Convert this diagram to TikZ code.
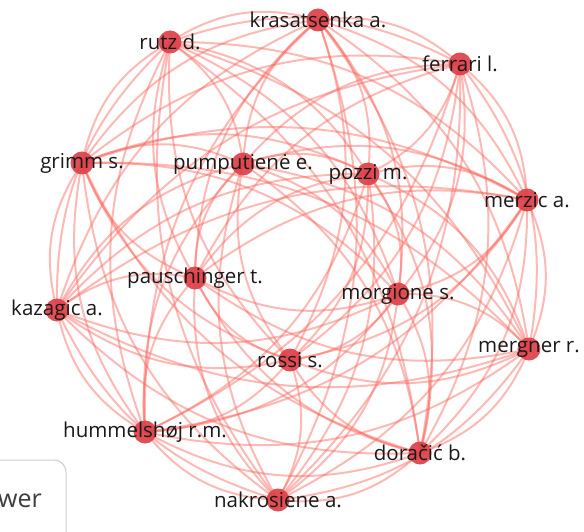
\documentclass[tikz,border=0pt]{standalone}
\usepackage{fontspec}
\setmainfont{Open Sans}
\usetikzlibrary{backgrounds}
\definecolor{edgecol}{RGB}{250,100,90}
\definecolor{nodecol}{RGB}{222,64,72}
\definecolor{labelcol}{RGB}{25,25,25}
\definecolor{boxcol}{RGB}{205,205,205}
\def\nodelist{kra/318/20/krasatsenka a., rut/170/42/rutz d., fer/460/64/ferrari l., gri/82/163/grimm s., pum/243/164/pumputienė e., poz/368/174/pozzi m., mez/527/200/merzic a., pau/195/278/pauschinger t., kaz/57/310/kazagic a., mor/398/294/morgione s., meg/529/349/mergner r., ros/290/360/rossi s., hum/145/432/hummelshøj r.m., dor/420/453/doračić b., nak/278/500/nakrosiene a.}
\tikzset{
  author/.style={circle, minimum size=23pt, inner sep=0pt, fill=nodecol, fill opacity=0.92},
  authorlabel/.style={inner sep=0pt, text=labelcol, font=\fontsize{20.5}{20.5}\selectfont},
  link/.style={draw=edgecol, line width=2pt, draw opacity=0.45},
}
\begin{document}
\begin{tikzpicture}[x=1pt,y=-1pt]
\useasboundingbox (0,0) rectangle (584,532);
% nodes
\foreach \n/\x/\y/\t in \nodelist {
  \node[author] (\n) at (\x,\y) {};
}
% edges
\begin{pgfonlayer}{background}
\foreach \na/\xa/\ya/\ta [count=\i] in \nodelist {
  \foreach \nb/\xb/\yb/\tb [count=\j] in \nodelist {
    \ifnum\j>\i
      \pgfmathsetmacro\cr{(\xa-290)/100*(\yb-260)/100-(\ya-260)/100*(\xb-290)/100}
      \ifdim\cr pt>0pt
        \draw[link] (\na.center) to[bend left=24] (\nb.center);
      \else
        \draw[link] (\nb.center) to[bend left=24] (\na.center);
      \fi
    \fi
  }
}
\end{pgfonlayer}
% labels
\foreach \n/\x/\y/\t in \nodelist {
  \node[authorlabel] (\n-label) at (\x,\y) {\t};
}
% viewer button fragment
\draw[boxcol, line width=1pt, fill=white, rounded corners=12pt] (-40,460) rectangle (66,560);
\node[anchor=base east, inner sep=0pt, text={rgb,255:red,60;green,60;blue,60}, font=\fontsize{25}{25}\selectfont] (viewer) at (42,507) {wer};
\end{tikzpicture}
\end{document}
